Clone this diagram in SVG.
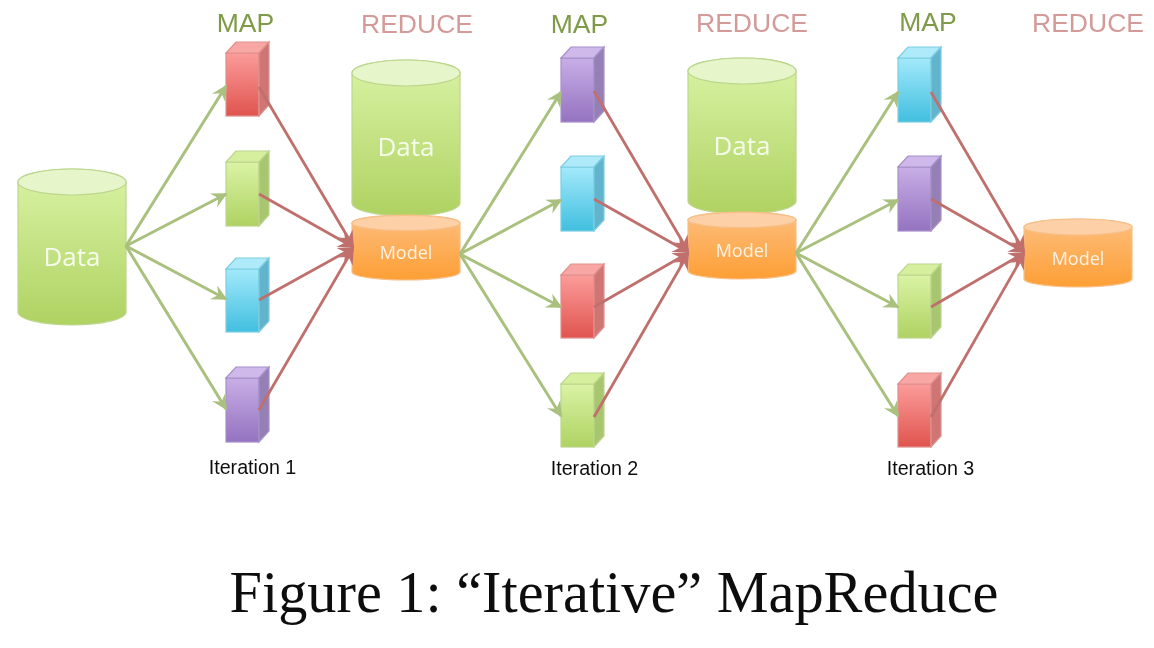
<svg xmlns="http://www.w3.org/2000/svg" width="1154" height="648" viewBox="0 0 1154 648">
<style>
.g{stroke:#a9c07e;stroke-width:3;fill:none;marker-end:url(#ag)}
.r{stroke:#c0706c;stroke-width:2.800;fill:none;marker-end:url(#ar)}
.hm{font:26.500px "Liberation Sans",Arial,sans-serif;fill:#7f9a48;text-anchor:middle}
.hr{font:26.500px "Liberation Sans",Arial,sans-serif;fill:#d49a98;text-anchor:middle}
.it{font:19.700px "Liberation Sans",Arial,sans-serif;fill:#111;text-anchor:middle}
.dt{font:26px "Open Sans","DejaVu Sans",sans-serif;fill:#f6fbec;text-anchor:middle}
.md{font:18px "Open Sans","DejaVu Sans",sans-serif;fill:#fdf3e6;text-anchor:middle}
.cap{font:58.300px "Liberation Serif","Times New Roman",serif;fill:#111;text-anchor:middle}
.f{stroke-width:1.200}
.cg{stroke:#bcd68c}
.co{stroke:#f7c08a}
.tg{fill:#e6f6ca}
.to{fill:#fdd0a8}
.sr{fill:url(#lr);stroke:#e0908c}.tr{fill:#f9a7a4;stroke:#e0908c}.dr{fill:#cf7573;stroke:#e0908c}
.sg{fill:url(#lg);stroke:#bcd68c}.tgb{fill:#d6ef9f;stroke:#bcd68c}.dg{fill:#a8c670;stroke:#bcd68c}
.sb{fill:url(#lb);stroke:#7dcde2}.tb{fill:#aeeafa;stroke:#7dcde2}.db{fill:#62b4cc;stroke:#7dcde2}
.sp{fill:url(#lp);stroke:#a690c8}.tp{fill:#cfb9ea;stroke:#a690c8}.dp{fill:#9580b6;stroke:#a690c8}
</style>
<defs>
<marker id="ag" viewBox="0 0 10 10" refX="9" refY="5" markerWidth="5.200" markerHeight="5.200" orient="auto"><path d="M0 0L10 5L0 10L3.500 5Z" fill="#a9c07e"/></marker>
<marker id="ar" viewBox="0 0 10 10" refX="9" refY="5" markerWidth="5.800" markerHeight="5.800" orient="auto"><path d="M0 0L10 5L0 10L3.500 5Z" fill="#c0706c"/></marker>
<linearGradient id="lg" x1="0" y1="0" x2="0" y2="1"><stop offset="0" stop-color="#daf3a5"/><stop offset="1" stop-color="#afd262"/></linearGradient>
<linearGradient id="lo" x1="0" y1="0" x2="0" y2="1"><stop offset="0" stop-color="#fdbe7e"/><stop offset="1" stop-color="#fd9f35"/></linearGradient>
<linearGradient id="lr" x1="0" y1="0" x2="0" y2="1"><stop offset="0" stop-color="#fb9c9a"/><stop offset="1" stop-color="#e0544f"/></linearGradient>
<linearGradient id="lb" x1="0" y1="0" x2="0" y2="1"><stop offset="0" stop-color="#a3e9fb"/><stop offset="1" stop-color="#41bfdf"/></linearGradient>
<linearGradient id="lp" x1="0" y1="0" x2="0" y2="1"><stop offset="0" stop-color="#c8aee6"/><stop offset="1" stop-color="#9473c0"/></linearGradient>
<filter id="soft" filterUnits="userSpaceOnUse" x="0" y="0" width="1154" height="648"><feGaussianBlur stdDeviation="0.500"/></filter>
</defs>
<g filter="url(#soft)">
<g id="data1" class="f"><path class="cg" d="M18 182V312A54 13 0 0 0 126 312V182A54 13 0 0 0 18 182Z" fill="url(#lg)"/><ellipse class="cg tg" cx="72" cy="182" rx="54" ry="13"/><text class="dt" x="72" y="266">Data</text></g>
<g id="data2" class="f"><path class="cg" d="M352 73V203A54 13 0 0 0 460 203V73A54 13 0 0 0 352 73Z" fill="url(#lg)"/><ellipse class="cg tg" cx="406" cy="73" rx="54" ry="13"/><text class="dt" x="406" y="156">Data</text></g>
<g id="model1" class="f"><path class="co" d="M352 223V272A54 8 0 0 0 460 272V223A54 8 0 0 0 352 223Z" fill="url(#lo)"/><ellipse class="co to" cx="406" cy="223" rx="54" ry="7.500"/><text class="md" x="406" y="259">Model</text></g>
<g id="data3" class="f"><path class="cg" d="M688 71V201A54 13 0 0 0 796 201V71A54 13 0 0 0 688 71Z" fill="url(#lg)"/><ellipse class="cg tg" cx="742" cy="71" rx="54" ry="13"/><text class="dt" x="742" y="155">Data</text></g>
<g id="model2" class="f"><path class="co" d="M688 220V271A54 8 0 0 0 796 271V220A54 8 0 0 0 688 220Z" fill="url(#lo)"/><ellipse class="co to" cx="742" cy="220" rx="54" ry="7.500"/><text class="md" x="742" y="257">Model</text></g>
<g id="model3" class="f"><path class="co" d="M1024 227V279A54 8 0 0 0 1132 279V227A54 8 0 0 0 1024 227Z" fill="url(#lo)"/><ellipse class="co to" cx="1078" cy="227" rx="54" ry="8"/><text class="md" x="1078" y="265">Model</text></g>

<g id="b11" class="f"><rect class="sr" x="226" y="53" width="33" height="63"/><path class="tr" d="M226 53L236 42H269L259 53Z"/><path class="dr" d="M259 53L269 42V105L259 116Z"/></g>
<g id="b12" class="f"><rect class="sg" x="226" y="162" width="33" height="64"/><path class="tgb" d="M226 162L236 151H269L259 162Z"/><path class="dg" d="M259 162L269 151V215L259 226Z"/></g>
<g id="b13" class="f"><rect class="sb" x="226" y="269" width="33" height="63"/><path class="tb" d="M226 269L236 258H269L259 269Z"/><path class="db" d="M259 269L269 258V321L259 332Z"/></g>
<g id="b14" class="f"><rect class="sp" x="226" y="378" width="33" height="64"/><path class="tp" d="M226 378L236 367H269L259 378Z"/><path class="dp" d="M259 378L269 367V431L259 442Z"/></g>

<g id="b21" class="f"><rect class="sp" x="561" y="58" width="33" height="64"/><path class="tp" d="M561 58L571 47H604L594 58Z"/><path class="dp" d="M594 58L604 47V111L594 122Z"/></g>
<g id="b22" class="f"><rect class="sb" x="561" y="167" width="33" height="64"/><path class="tb" d="M561 167L571 156H604L594 167Z"/><path class="db" d="M594 167L604 156V220L594 231Z"/></g>
<g id="b23" class="f"><rect class="sr" x="561" y="275" width="33" height="63"/><path class="tr" d="M561 275L571 264H604L594 275Z"/><path class="dr" d="M594 275L604 264V327L594 338Z"/></g>
<g id="b24" class="f"><rect class="sg" x="561" y="384" width="33" height="63"/><path class="tgb" d="M561 384L571 373H604L594 384Z"/><path class="dg" d="M594 384L604 373V436L594 447Z"/></g>

<g id="b31" class="f"><rect class="sb" x="898" y="58" width="33" height="64"/><path class="tb" d="M898 58L908 47H941L931 58Z"/><path class="db" d="M931 58L941 47V111L931 122Z"/></g>
<g id="b32" class="f"><rect class="sp" x="898" y="167" width="33" height="64"/><path class="tp" d="M898 167L908 156H941L931 167Z"/><path class="dp" d="M931 167L941 156V220L931 231Z"/></g>
<g id="b33" class="f"><rect class="sg" x="898" y="275" width="33" height="63"/><path class="tgb" d="M898 275L908 264H941L931 275Z"/><path class="dg" d="M931 275L941 264V327L931 338Z"/></g>
<g id="b34" class="f"><rect class="sr" x="898" y="384" width="33" height="63"/><path class="tr" d="M898 384L908 373H941L931 384Z"/><path class="dr" d="M931 384L941 373V436L931 447Z"/></g>

<g id="connectors">
<path class="g" d="M126 246L226 86"/><path class="g" d="M126 246L226 194"/><path class="g" d="M126 246L226 299"/><path class="g" d="M126 246L226 409"/>
<path class="r" d="M259 87L353 246"/><path class="r" d="M259 194L353 247"/><path class="r" d="M259 300L353 248"/><path class="r" d="M259 410L353 249"/>
<path class="g" d="M460 254L561 92"/><path class="g" d="M460 254L561 200"/><path class="g" d="M460 254L561 307"/><path class="g" d="M460 254L561 416"/>
<path class="r" d="M594 91L688 251"/><path class="r" d="M594 199L688 252"/><path class="r" d="M594 307L688 253"/><path class="r" d="M594 417L688 254"/>
<path class="g" d="M796 253L898 92"/><path class="g" d="M796 253L898 200"/><path class="g" d="M796 253L898 307"/><path class="g" d="M796 253L898 416"/>
<path class="r" d="M931 92L1024 251"/><path class="r" d="M931 199L1024 252"/><path class="r" d="M931 307L1024 253"/><path class="r" d="M931 417L1024 254"/>
</g>

<g id="labels">
<text class="hm" x="245.500" y="32">MAP</text><text class="hr" x="417" y="33">REDUCE</text>
<text class="hm" x="579.500" y="33">MAP</text><text class="hr" x="752" y="31.500">REDUCE</text>
<text class="hm" x="928" y="31">MAP</text><text class="hr" x="1088" y="31.500">REDUCE</text>
<text class="it" x="252.500" y="474">Iteration 1</text><text class="it" x="594.500" y="475">Iteration 2</text><text class="it" x="930.500" y="475">Iteration 3</text>
<text class="cap" x="614" y="612">Figure 1: “Iterative” MapReduce</text>
</g>
</g>
</svg>
